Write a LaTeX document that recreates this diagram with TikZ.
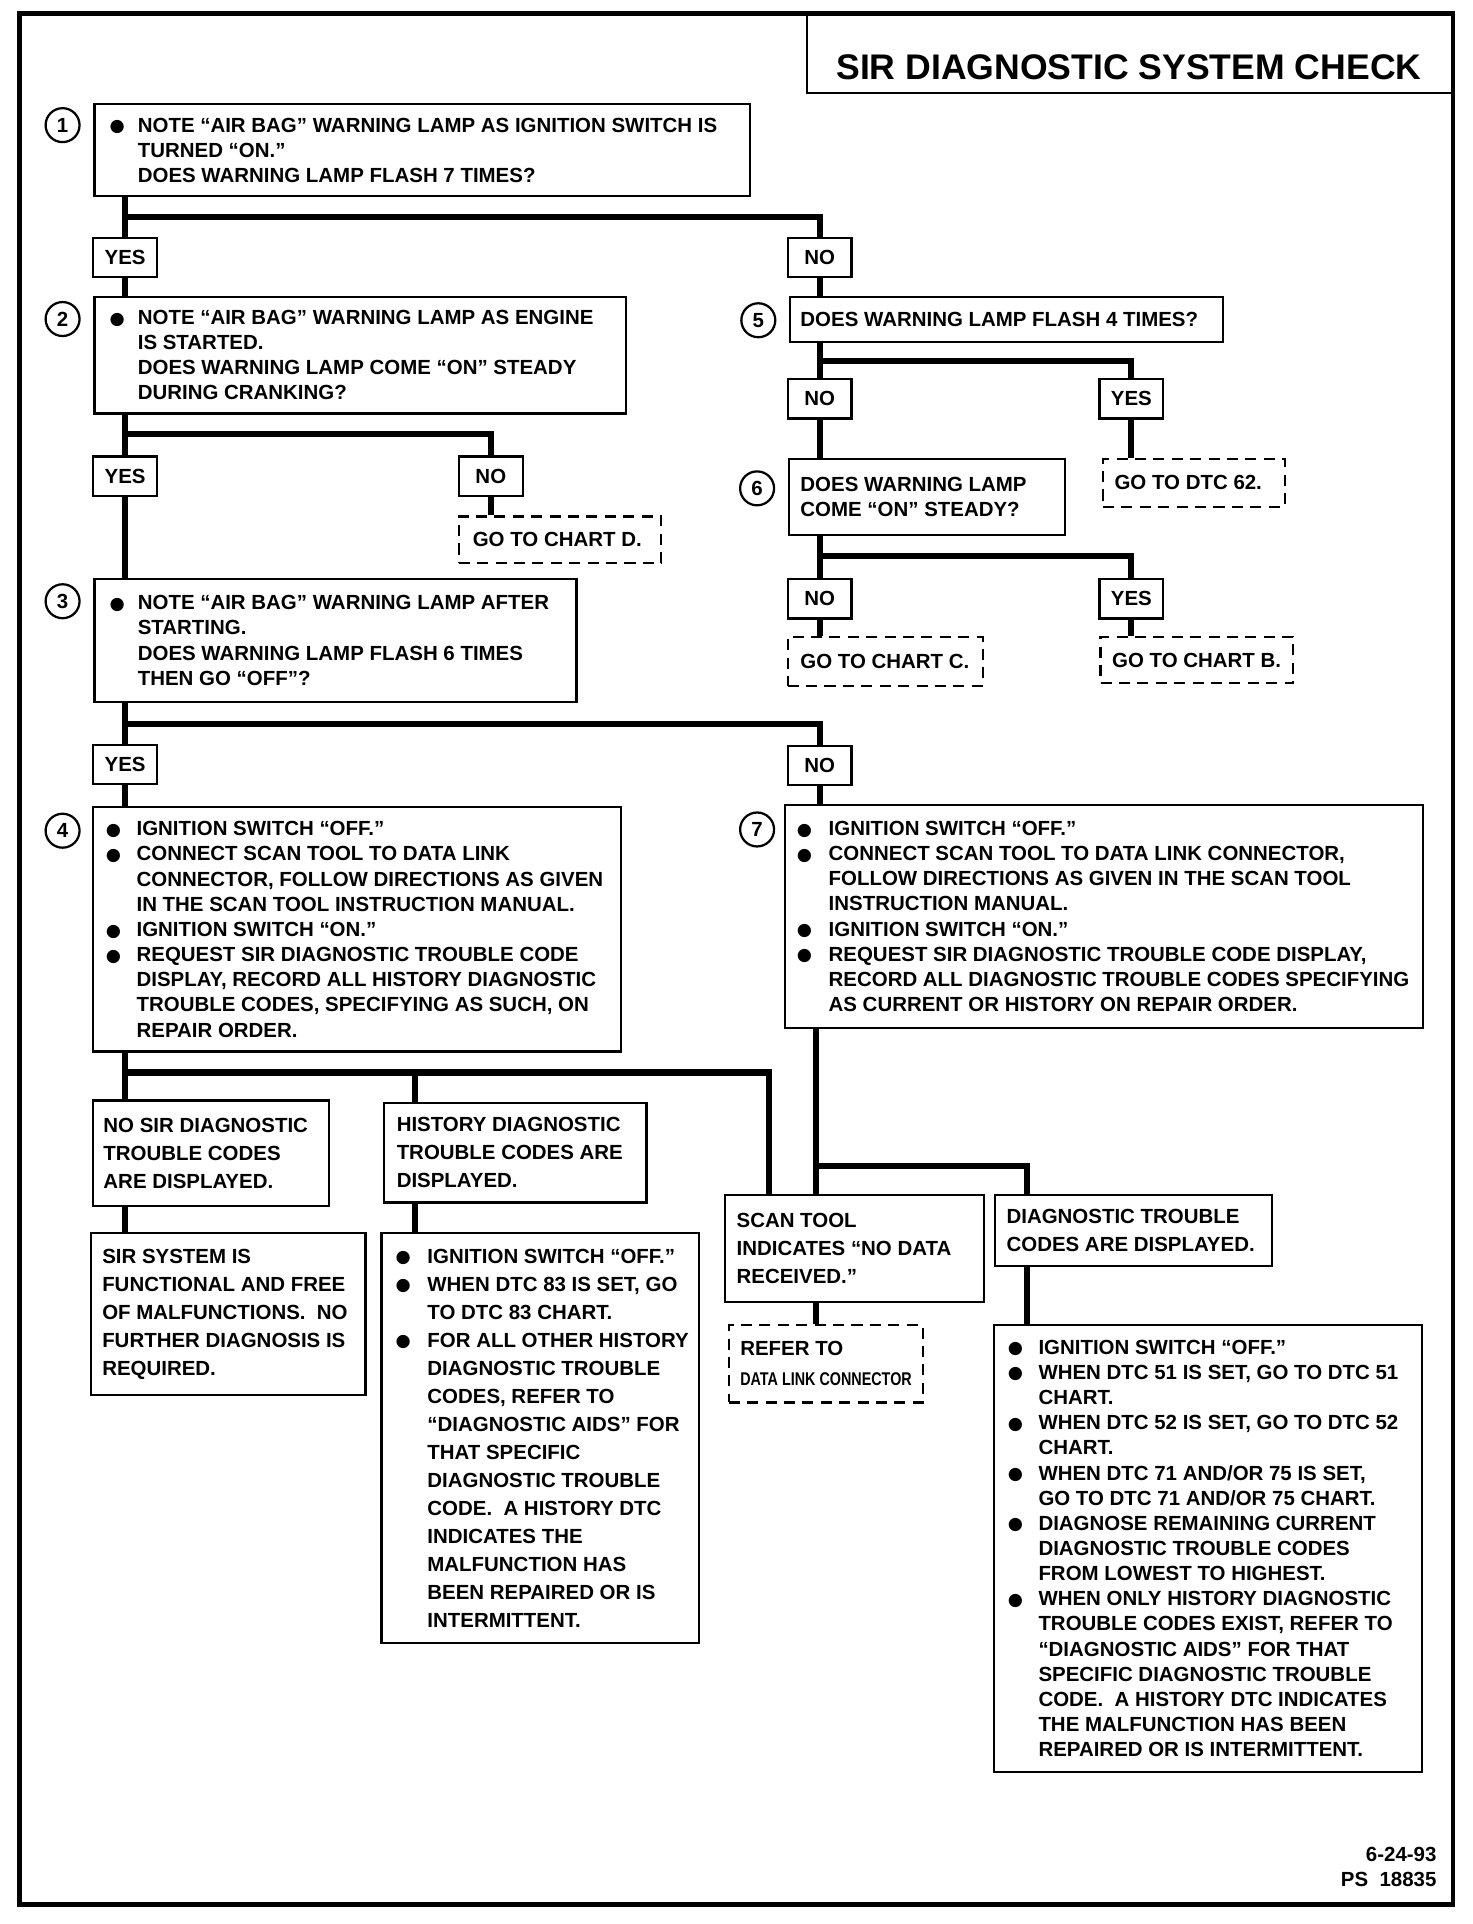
\documentclass[tikz,border=0pt]{standalone}
\usepackage{fontspec}
\setmainfont{Liberation Sans}
\newfontfamily\dejavu{DejaVu Sans}
\usepackage{graphicx}
\usetikzlibrary{calc}
\newlength\bi
\setlength\bi{14pt}
\newcommand\bul{\makebox[\bi][l]{\raisebox{0.2pt}{\dejavu\fontsize{8.5}{10}\selectfont ●}}}
\newcommand\cnt{\hspace*{\bi}}
% #1 text opts, #2 box style, #3 name, #4 x1, #5 y1, #6 x2, #7 y2, #8 left pad, #9 text
\newcommand\tbox[9][]{%
 \pgfmathsetmacro\bw{(#6-#4)*0.6}%
 \pgfmathsetmacro\bh{(#7-#5)*0.6}%
 \node[#2, anchor=north west, minimum width=\bw pt, minimum height=\bh pt] (#3) at (#4,#5) {};%
 \node[txt, #1, anchor=west] at ($(#3.west)+(#8,0)$) {#9};}
\tikzset{
 conn/.style={line width=3pt, line join=miter},
 boxs/.style={draw, line width=1.1pt, fill=white, inner sep=0pt},
 dbox/.style={boxs, dash pattern=on 5.4pt off 3.6pt},
 txt/.style={align=left, inner sep=0pt, font=\bfseries\fontsize{10}{12.3}\selectfont},
 wide/.style={font=\bfseries\fontsize{10}{13.7}\selectfont},
 bi/.code={\setlength\bi{#1}},
 yn/.style={draw, line width=1.1pt, fill=white, minimum width=31.2pt, minimum height=19.2pt, inner sep=0pt, font=\bfseries\fontsize{10}{12}\selectfont},
 num/.style={circle, draw, line width=1.1pt, minimum size=16.6pt, inner sep=0pt, font=\bfseries\fontsize{10}{12}\selectfont},
}
\begin{document}
\begin{tikzpicture}[x=0.6pt, y=-0.6pt]
\fill[white] (0,0) rectangle (1200,1568);
\useasboundingbox (0,0) rectangle (1200,1568);
% frame and title
\draw[line width=2.2pt] (16,11) rectangle (1184,1552);
\node[boxs, fill=none, anchor=north west, minimum width=316.2pt, minimum height=38.4pt] (title) at (657,11) {};
\node[txt, font=\bfseries\fontsize{17.4}{20}\selectfont] (titletext) at (920,55) {SIR DIAGNOSTIC SYSTEM CHECK};
% number circles
\node[num] (n1) at (51,102) {1};
\node[num] (n2) at (51,260) {2};
\node[num] (n3) at (51,490) {3};
\node[num] (n4) at (51,677) {4};
\node[num] (n5) at (618,261) {5};
\node[num] (n6) at (617,398) {6};
\node[num] (n7) at (617,676) {7};
% coordinates for trunks and junctions
\coordinate (tl) at (102,0);
\coordinate (t7) at (665,0);
\coordinate (c338) at (338,0);
\coordinate (c627) at (627,0);
\coordinate (c837) at (837,0);
\coordinate (j1) at (0,177);
\coordinate (j2) at (0,354);
\coordinate (j3) at (0,590);
\coordinate (j5) at (0,294);
\coordinate (j6) at (0,453);
\coordinate (j4) at (0,874);
\coordinate (j7) at (0,950);
% left column boxes
\tbox[bi=13.8pt]{boxs}{b1}{76}{84}{610}{159}{13}{\bul NOTE “AIR BAG” WARNING LAMP AS IGNITION SWITCH IS\\ \cnt TURNED “ON.”\\ \cnt DOES WARNING LAMP FLASH 7 TIMES?}
\tbox[bi=13.8pt]{boxs}{b2}{76}{241}{509}{336}{13}{\bul NOTE “AIR BAG” WARNING LAMP AS ENGINE\\ \cnt IS STARTED.\\ \cnt DOES WARNING LAMP COME “ON” STEADY\\ \cnt DURING CRANKING?}
\tbox[bi=13.8pt]{boxs}{b3}{76}{471}{469}{571}{13}{\bul NOTE “AIR BAG” WARNING LAMP AFTER\\ \cnt STARTING.\\ \cnt DOES WARNING LAMP FLASH 6 TIMES\\ \cnt THEN GO “OFF”?}
\tbox[bi=15pt]{boxs}{b4}{75}{657}{505}{856}{11}{\bul IGNITION SWITCH “OFF.”\\ \bul CONNECT SCAN TOOL TO DATA LINK\\ \cnt CONNECTOR, FOLLOW DIRECTIONS AS GIVEN\\ \cnt IN THE SCAN TOOL INSTRUCTION MANUAL.\\ \bul IGNITION SWITCH “ON.”\\ \bul REQUEST SIR DIAGNOSTIC TROUBLE CODE\\ \cnt DISPLAY, RECORD ALL HISTORY DIAGNOSTIC\\ \cnt TROUBLE CODES, SPECIFYING AS SUCH, ON\\ \cnt REPAIR ORDER.}
% right column boxes
\tbox{boxs}{b5}{643}{241}{996}{278}{9}{DOES WARNING LAMP FLASH 4 TIMES?}
\tbox{boxs}{b6}{642}{373}{867}{435}{10}{DOES WARNING LAMP\\ COME “ON” STEADY?}
\tbox[bi=15.6pt]{boxs}{b7}{639}{655}{1159}{837}{10}{\bul IGNITION SWITCH “OFF.”\\ \bul CONNECT SCAN TOOL TO DATA LINK CONNECTOR,\\ \cnt FOLLOW DIRECTIONS AS GIVEN IN THE SCAN TOOL\\ \cnt INSTRUCTION MANUAL.\\ \bul IGNITION SWITCH “ON.”\\ \bul REQUEST SIR DIAGNOSTIC TROUBLE CODE DISPLAY,\\ \cnt RECORD ALL DIAGNOSTIC TROUBLE CODES SPECIFYING\\ \cnt AS CURRENT OR HISTORY ON REPAIR ORDER.}
% dashed boxes
\tbox{dbox}{dD}{373}{420}{538}{458}{12}{GO TO CHART D.}
\tbox{dbox}{d62}{898}{373}{1046}{412}{10}{GO TO DTC 62.}
\tbox{dbox}{dC}{641}{518}{800}{558}{11}{GO TO CHART C.}
\tbox{dbox}{dB}{896}{518}{1053}{556}{10}{GO TO CHART B.}
\tbox{dbox}{dRef}{593}{1079}{751}{1142}{10}{REFER TO\\[2.4pt]{\fontsize{9}{10}\selectfont\scalebox{0.78}[1]{DATA LINK CONNECTOR}}}
% lower boxes
\tbox[wide]{boxs}{nosir}{75}{896}{267}{982}{9}{NO SIR DIAGNOSTIC\\ TROUBLE CODES\\ ARE DISPLAYED.}
\tbox[wide]{boxs}{hist}{312}{898}{526}{979}{11}{HISTORY DIAGNOSTIC\\ TROUBLE CODES ARE\\ DISPLAYED.}
\tbox[wide]{boxs}{sirsys}{73}{1004}{297}{1136}{10}{SIR SYSTEM IS\\ FUNCTIONAL AND FREE\\ OF MALFUNCTIONS.~~NO\\ FURTHER DIAGNOSIS IS\\ REQUIRED.}
\tbox[wide, bi=15.6pt]{boxs}{histb}{310}{1004}{569}{1338}{12}{\bul IGNITION SWITCH “OFF.”\\ \bul WHEN DTC 83 IS SET, GO\\ \cnt TO DTC 83 CHART.\\ \bul FOR ALL OTHER HISTORY\\ \cnt DIAGNOSTIC TROUBLE\\ \cnt CODES, REFER TO\\ \cnt “DIAGNOSTIC AIDS” FOR\\ \cnt THAT SPECIFIC\\ \cnt DIAGNOSTIC TROUBLE\\ \cnt CODE.~~A HISTORY DTC\\ \cnt INDICATES THE\\ \cnt MALFUNCTION HAS\\ \cnt BEEN REPAIRED OR IS\\ \cnt INTERMITTENT.}
\tbox[wide]{boxs}{scan}{590}{973}{801}{1060}{10}{SCAN TOOL\\ INDICATES “NO DATA\\ RECEIVED.”}
\tbox[wide]{boxs}{diag}{810}{973}{1036}{1031}{10}{DIAGNOSTIC TROUBLE\\ CODES ARE DISPLAYED.}
\tbox[bi=15pt]{boxs}{dr}{809}{1079}{1158}{1443}{12}{\bul IGNITION SWITCH “OFF.”\\ \bul WHEN DTC 51 IS SET, GO TO DTC 51\\ \cnt CHART.\\ \bul WHEN DTC 52 IS SET, GO TO DTC 52\\ \cnt CHART.\\ \bul WHEN DTC 71 AND/OR 75 IS SET,\\ \cnt GO TO DTC 71 AND/OR 75 CHART.\\ \bul DIAGNOSE REMAINING CURRENT\\ \cnt DIAGNOSTIC TROUBLE CODES\\ \cnt FROM LOWEST TO HIGHEST.\\ \bul WHEN ONLY HISTORY DIAGNOSTIC\\ \cnt TROUBLE CODES EXIST, REFER TO\\ \cnt “DIAGNOSTIC AIDS” FOR THAT\\ \cnt SPECIFIC DIAGNOSTIC TROUBLE\\ \cnt CODE.~~A HISTORY DTC INDICATES\\ \cnt THE MALFUNCTION HAS BEEN\\ \cnt REPAIRED OR IS INTERMITTENT.}
% yes / no labels
\node[yn] (yes1) at (102,210) {YES};
\node[yn] (no1) at (668,210) {NO};
\node[yn] (yes2) at (102,388) {YES};
\node[yn] (no2) at (400,388) {NO};
\node[yn] (yes3) at (102,623) {YES};
\node[yn] (no3) at (668,624) {NO};
\node[yn] (no5) at (668,325) {NO};
\node[yn] (yes5) at (922,325) {YES};
\node[yn] (no6) at (668,488) {NO};
\node[yn] (yes6) at (922,488) {YES};
% connectors
\draw[conn] (b1.south -| yes1) -- (yes1.north);
\draw[conn] (yes1 |- j1) -| (no1.north);
\draw[conn] (yes1.south) -- (b2.north -| yes1);
\draw[conn] (no1.south) -- (b5.north -| no1);
\draw[conn] (b2.south -| yes2) -- (yes2.north);
\draw[conn] (yes2 |- j2) -| (no2.north);
\draw[conn] (no2.south) -- (dD.north -| no2);
\draw[conn] (yes2.south) -- (b3.north -| yes2);
\draw[conn] (b3.south -| yes3) -- (yes3.north);
\draw[conn] (yes3 |- j3) -| (no3.north);
\draw[conn] (yes3.south) -- (b4.north -| yes3);
\draw[conn] (no3.south) -- (b7.north -| no3);
\draw[conn] (b5.south -| no5) -- (no5.north);
\draw[conn] (no5 |- j5) -| (yes5.north);
\draw[conn] (no5.south) -- (b6.north -| no5);
\draw[conn] (yes5.south) -- (d62.north -| yes5);
\draw[conn] (b6.south -| no6) -- (no6.north);
\draw[conn] (no6 |- j6) -| (yes6.north);
\draw[conn] (no6.south) -- (dC.north -| no6);
\draw[conn] (yes6.south) -- (dB.north -| yes6);
\draw[conn] (b4.south -| tl) -- (nosir.north -| tl);
\draw[conn] (tl |- j4) -| (scan.north -| c627);
\draw[conn] (c338 |- j4) -- (hist.north -| c338);
\draw[conn] (nosir.south -| tl) -- (sirsys.north -| tl);
\draw[conn] (hist.south -| c338) -- (histb.north -| c338);
\draw[conn] (b7.south -| t7) -- (scan.north -| t7);
\draw[conn] (t7 |- j7) -| (diag.north -| c837);
\draw[conn] (scan.south -| t7) -- (dRef.north -| t7);
\draw[conn] (diag.south -| c837) -- (dr.north -| c837);
% footer
\node[txt, anchor=north east, align=right] (foot) at (1171,1505) {6-24-93\\ PS~~18835};
\end{tikzpicture}
\end{document}
